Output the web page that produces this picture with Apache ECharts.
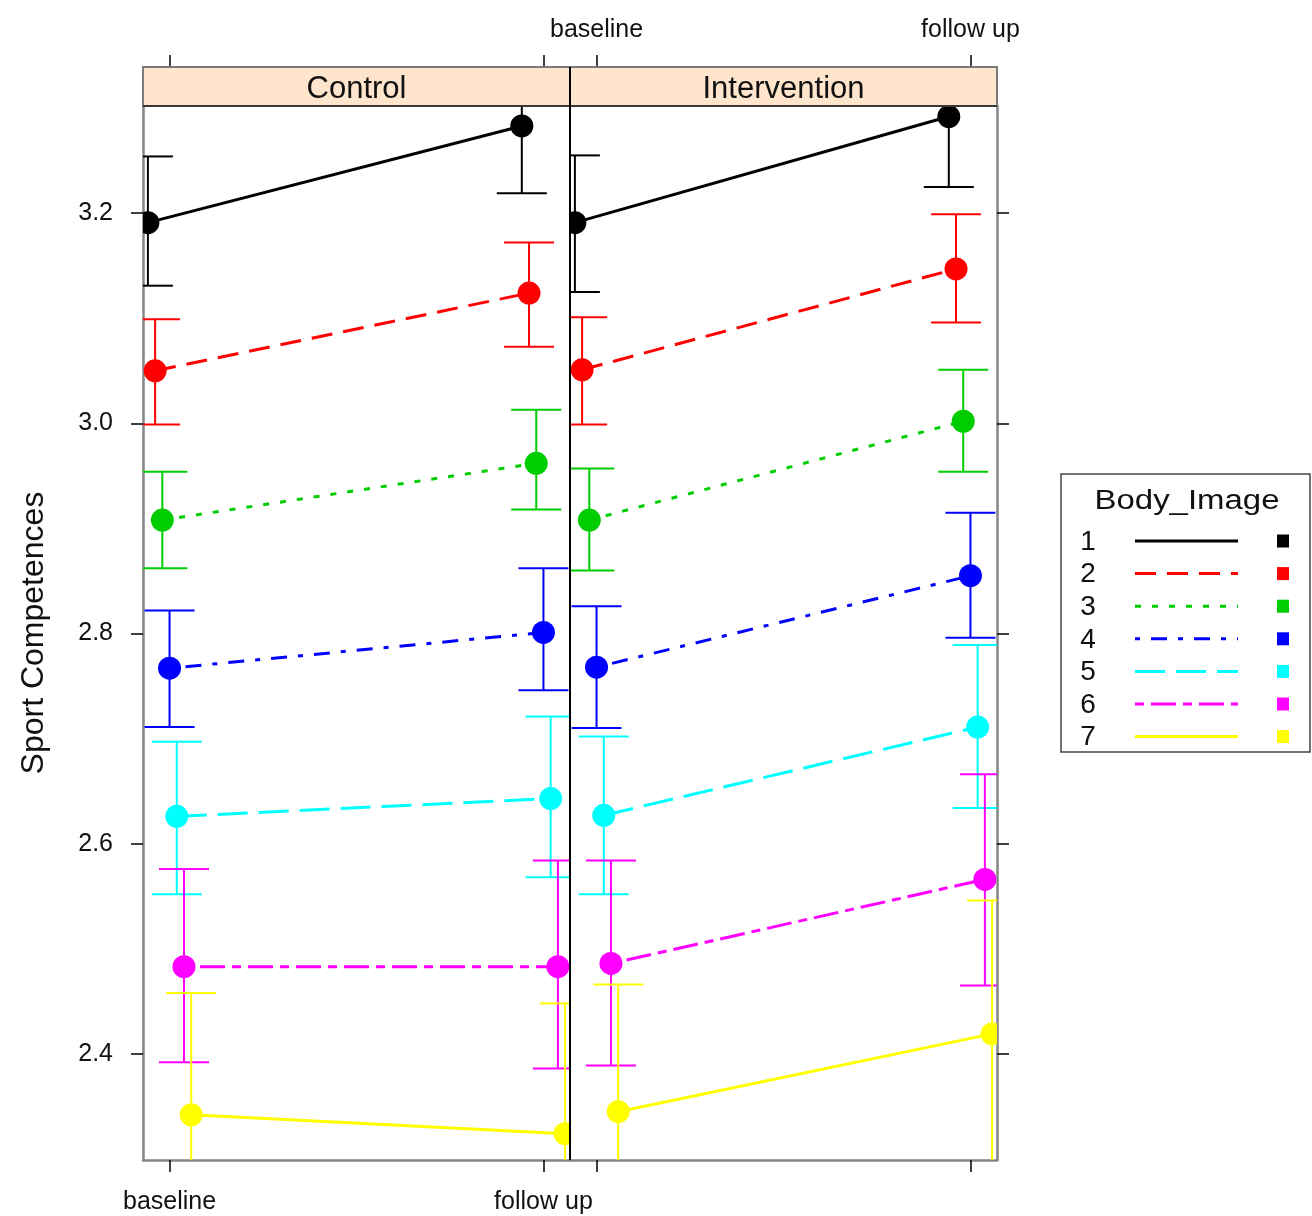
<!DOCTYPE html>
<html>
<head>
<meta charset="utf-8">
<script src="https://cdn.jsdelivr.net/npm/echarts@6/dist/echarts.min.js"></script>
<style>
html,body{margin:0;padding:0;background:#ffffff;}
#chart{width:1312px;height:1216px;}
</style>
</head>
<body>
<div id="chart"></div>
<script>
// ---------------- data ----------------
const timepoints = ['baseline', 'follow up'];
const panels = ['Control', 'Intervention'];
const groups = ['1', '2', '3', '4', '5', '6', '7'];
const yTicks = [2.4, 2.6, 2.8, 3.0, 3.2];

const controlBaselineMean  = [3.191, 3.050, 2.908, 2.767, 2.626, 2.483, 2.342];
const controlBaselineUpper = [3.254, 3.099, 2.954, 2.822, 2.697, 2.576, 2.458];
const controlBaselineLower = [3.131, 2.999, 2.862, 2.711, 2.552, 2.392, 2.226];

const controlFollowMean  = [3.283, 3.124, 2.962, 2.801, 2.643, 2.483, 2.324];
const controlFollowUpper = [3.346, 3.172, 3.013, 2.862, 2.721, 2.584, 2.448];
const controlFollowLower = [3.219, 3.073, 2.918, 2.746, 2.568, 2.386, 2.201];

const interventionBaselineMean  = [3.191, 3.051, 2.908, 2.768, 2.627, 2.486, 2.345];
const interventionBaselineUpper = [3.255, 3.101, 2.957, 2.826, 2.702, 2.584, 2.466];
const interventionBaselineLower = [3.125, 2.999, 2.860, 2.710, 2.552, 2.389, 2.224];

const interventionFollowMean  = [3.292, 3.147, 3.002, 2.855, 2.711, 2.566, 2.419];
const interventionFollowUpper = [3.358, 3.199, 3.051, 2.915, 2.789, 2.666, 2.546];
const interventionFollowLower = [3.225, 3.096, 2.954, 2.796, 2.634, 2.465, 2.292];

// ---------------- styles ----------------
const groupColors = ['#000000', '#FF0000', '#00CD00', '#0000FF', '#00FFFF', '#FF00FF', '#FFFF00'];
const groupDash = ['solid', [21, 11], [6, 11], [5, 11, 16, 11], [30, 11], [9, 7, 25, 7], 'solid'];
const dodge = 0.0193;
const FONT = '"Liberation Sans", Arial, Helvetica, sans-serif';

const panelData = [
  {mean: [controlBaselineMean, controlFollowMean], lower: [controlBaselineLower, controlFollowLower], upper: [controlBaselineUpper, controlFollowUpper]},
  {mean: [interventionBaselineMean, interventionFollowMean], lower: [interventionBaselineLower, interventionFollowLower], upper: [interventionBaselineUpper, interventionFollowUpper]}
];

// ---------------- layout ----------------
const G = {top: 106, height: 1054, width: 427, lefts: [143, 570]};
const stripH = 39;
const frameColor = '#858585';

const chart = echarts.init(document.getElementById('chart'), null, {renderer: 'canvas'});

const xMin = 0.929, xMax = 2.071;
const yMin = 2.299, yMax = 3.302;

function xLabelFmt(v) { return timepoints[Math.round(v) - 1] || ''; }

const grids = G.lefts.map(l => ({left: l, top: G.top, width: G.width, height: G.height, containLabel: false}));

const tickStyle = {show: true, inside: false, length: 12, lineStyle: {color: '#000', width: 1.5}};
const labelText = {color: '#111', fontFamily: FONT, fontSize: 25};

const xAxes = [];
const yAxes = [];
[0, 1].forEach(p => {
  xAxes.push({
    type: 'value', gridIndex: p, position: 'bottom', min: xMin, max: xMax,
    axisLine: {show: true, onZero: false, lineStyle: {color: frameColor, width: 2.5}},
    axisTick: Object.assign({customValues: [1, 2]}, tickStyle),
    axisLabel: Object.assign({show: p === 0, customValues: [1, 2], formatter: xLabelFmt, margin: 30}, labelText),
    splitLine: {show: false}
  });
  xAxes.push({
    type: 'value', gridIndex: p, position: 'top', offset: stripH, min: xMin, max: xMax,
    axisLine: {show: false},
    axisTick: Object.assign({customValues: [1, 2]}, tickStyle),
    axisLabel: Object.assign({show: p === 1, customValues: [1, 2], formatter: xLabelFmt, margin: 24}, labelText),
    splitLine: {show: false}
  });
  yAxes.push({
    type: 'value', gridIndex: p, position: 'left', min: yMin, max: yMax,
    name: p === 0 ? 'Sport Competences' : '',
    nameLocation: 'middle', nameRotate: 90, nameGap: 93,
    nameTextStyle: {color: '#111', fontFamily: FONT, fontSize: 32},
    axisLine: {show: true, onZero: false, lineStyle: {color: p === 0 ? frameColor : '#000', width: p === 0 ? 2.5 : 2}},
    axisTick: p === 0 ? Object.assign({customValues: yTicks}, tickStyle) : {show: false},
    axisLabel: Object.assign({show: p === 0, customValues: yTicks, margin: 30, formatter: v => v.toFixed(1)}, labelText),
    splitLine: {show: false}
  });
  yAxes.push({
    type: 'value', gridIndex: p, position: 'right', min: yMin, max: yMax,
    axisLine: {show: true, onZero: false, lineStyle: {color: p === 0 ? '#000' : frameColor, width: p === 0 ? 2 : 2.5}},
    axisTick: p === 1 ? Object.assign({customValues: yTicks}, tickStyle) : {show: false},
    axisLabel: {show: false},
    splitLine: {show: false}
  });
});

const series = [];
[0, 1].forEach(p => {
  const d = panelData[p];
  groups.forEach((g, k) => {
    const off = (k - 3) * dodge;
    const color = groupColors[k];
    // error bars
    series.push({
      type: 'custom', xAxisIndex: p * 2, yAxisIndex: p * 2, z: 2, silent: true, clip: true,
      data: timepoints.map((t, ti) => [ti + 1 + off, d.mean[ti][k], d.lower[ti][k], d.upper[ti][k]]),
      renderItem: function (params, api) {
        const x = api.value(0), lo = api.value(2), hi = api.value(3);
        const pLo = api.coord([x, lo]), pHi = api.coord([x, hi]);
        const cs = params.coordSys;
        const top = cs.y, bot = cs.y + cs.height, left = cs.x, right = cs.x + cs.width;
        const cx = pLo[0];
        const hw = 25;
        const st = {stroke: color, lineWidth: 2};
        const ch = [{type: 'line', shape: {x1: cx, y1: Math.max(pHi[1], top), x2: cx, y2: Math.min(pLo[1], bot)}, style: st}];
        const cl = Math.max(cx - hw, left), cr = Math.min(cx + hw, right);
        if (pHi[1] >= top) ch.push({type: 'line', shape: {x1: cl, y1: pHi[1], x2: cr, y2: pHi[1]}, style: st});
        if (pLo[1] <= bot) ch.push({type: 'line', shape: {x1: cl, y1: pLo[1], x2: cr, y2: pLo[1]}, style: st});
        return {type: 'group', children: ch};
      }
    });
    // mean lines
    series.push({
      type: 'line', name: g, xAxisIndex: p * 2, yAxisIndex: p * 2, z: 3,
      data: timepoints.map((t, ti) => [ti + 1 + off, d.mean[ti][k]]),
      symbol: 'none', showSymbol: false, clip: true,
      lineStyle: {color: color, width: 3, type: groupDash[k]},
      emphasis: {disabled: true}
    });
    // points (clipped to the panel)
    series.push({
      type: 'custom', xAxisIndex: p * 2, yAxisIndex: p * 2, z: 4, silent: true, clip: true,
      data: timepoints.map((t, ti) => [ti + 1 + off, d.mean[ti][k]]),
      renderItem: function (params, api) {
        const c = api.coord([api.value(0), api.value(1)]);
        return {type: 'circle', shape: {cx: c[0], cy: c[1], r: 11.5}, style: {fill: color}};
      }
    });
  });
});

// ---------------- strips, legend ----------------
const graphics = [];
panels.forEach((name, p) => {
  const l = G.lefts[p];
  graphics.push({type: 'rect', shape: {x: l, y: G.top - stripH, width: G.width, height: stripH}, style: {fill: '#FFE5CC', stroke: '#7a7a7a', lineWidth: 2}, z: 10});
  graphics.push({type: 'line', shape: {x1: l, y1: G.top, x2: l + G.width, y2: G.top}, style: {stroke: '#222', lineWidth: 1.5}, z: 11});
  graphics.push({type: 'text', x: l + G.width / 2, y: G.top - stripH / 2 + 3, style: {text: name, fill: '#111', font: '31px ' + FONT, textAlign: 'center', textVerticalAlign: 'middle'}, z: 12});
});
graphics.push({type: 'line', shape: {x1: 570, y1: G.top - stripH, x2: 570, y2: G.top + G.height}, style: {stroke: '#000', lineWidth: 2}, z: 12});

const L = {x: 1061, y: 474, w: 249, h: 278};
graphics.push({type: 'rect', shape: {x: L.x, y: L.y, width: L.w, height: L.h}, style: {fill: '#fff', stroke: '#444', lineWidth: 1.5}, z: 10});
graphics.push({type: 'text', x: 1187, y: 502, scaleX: 1.22, style: {text: 'Body_Image', fill: '#111', font: '27px ' + FONT, textAlign: 'center', textVerticalAlign: 'middle'}, z: 11});
groups.forEach((g, k) => {
  const yy = 541 + k * 32.6;
  graphics.push({type: 'text', x: 1088, y: yy + 1, style: {text: g, fill: '#111', font: '28px ' + FONT, textAlign: 'center', textVerticalAlign: 'middle'}, z: 11});
  const dash = groupDash[k] === 'solid' ? null : groupDash[k];
  graphics.push({type: 'line', shape: {x1: 1135, y1: yy, x2: 1238, y2: yy}, style: {stroke: groupColors[k], lineWidth: 3, lineDash: dash}, z: 11});
  graphics.push({type: 'rect', shape: {x: 1277, y: yy - 6.5, width: 12, height: 13}, style: {fill: groupColors[k]}, z: 11});
});

chart.setOption({
  animation: false,
  backgroundColor: '#ffffff',
  grid: grids,
  xAxis: xAxes,
  yAxis: yAxes,
  series: series,
  graphic: graphics
});
</script>
</body>
</html>
